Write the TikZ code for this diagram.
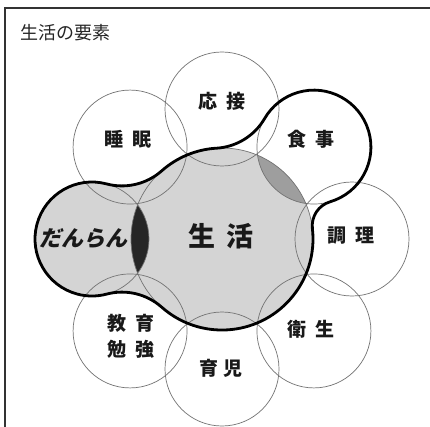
\documentclass[tikz,border=0pt]{standalone}
\usepackage{fontspec}
\newfontfamily\jp{Noto Sans CJK JP}
\begin{document}
\begin{tikzpicture}[x=1pt,y=1pt,
  thincirc/.style={draw=black!55, line width=0.7pt},
  outline/.style={draw=black, line width=2.8pt, line join=round},
  lightfill/.style={fill=black!17},
  lbl/.style={font=\jp\bfseries\fontsize{19}{19}\selectfont, text=black!90, inner sep=0pt},
]
\useasboundingbox (0,0) rectangle (430,426);
\clip (0,0) rectangle (430,426);
\fill[white] (0,0) rectangle (430,426);
\draw[black!80, line width=1.3pt] (5,-2) -- (5,418) -- (432,418);
\begin{scope}[shift={(222,187)}]
  % light gray region: big circle + danran circle + fillets
  \fill[lightfill] (131.5:91)
     arc[start angle=311.5, end angle=255.17, radius=60]
     arc[start angle=75.17, end angle=284.83, radius=57]
     arc[start angle=104.83, end angle=48.5, radius=60]
     arc[start angle=228.5, end angle=491.5, radius=91] -- cycle;
  % lenses
  \begin{scope}
    \clip (0,0) circle[radius=91];
    \fill[black!85] (180:130) circle[radius=57];
    \fill[black!38] (45:130) circle[radius=57];
  \end{scope}
  % thin circles
  \foreach \a in {0,45,...,315} \draw[thincirc] (\a:130) circle[radius=57];
  \draw[thincirc] (0,0) circle[radius=91];
  % thick outline
  \draw[outline] (93.5:91)
     arc[start angle=93.5, end angle=131.5, radius=91]
     arc[start angle=311.5, end angle=255.17, radius=60]
     arc[start angle=75.17, end angle=284.83, radius=57]
     arc[start angle=104.83, end angle=48.5, radius=60]
     arc[start angle=228.5, end angle=366.58, radius=91]
     arc[start angle=186.58, end angle=106.52, radius=25]
     arc[start angle=-73.48, end angle=149.83, radius=57]
     arc[start angle=329.83, end angle=273.5, radius=60] -- cycle;
\end{scope}
% title
\node[font=\jp\fontsize{18}{18}\selectfont, text=black!85, anchor=west, inner sep=0pt] (title) at (20,393) {生活の要素};
% labels
\node[lbl] (oset) at (222,325) {応\hspace{9pt}接};
\node[lbl] (suimin) at (128,287) {睡\hspace{9pt}眠};
\node[lbl] (shokuji) at (311,287) {食\hspace{9pt}事};
\node[lbl] (chori) at (351,190) {調\hspace{9pt}理};
\node[lbl] (eisei) at (311,97) {衛\hspace{9pt}生};
\node[lbl] (ikuji) at (221,58) {育\hspace{5pt}児};
\node[lbl, align=center] (kyoiku) at (131,90) {教\hspace{9pt}育\\[7pt]勉\hspace{9pt}強};
\node[lbl, font=\jp\bfseries\fontsize{27}{27}\selectfont] (seikatsu) at (221,190) {生\hspace{12pt}活};
\begin{scope}[shift={(85,187)}, xslant=0.22]
  \node[lbl, font=\jp\bfseries\fontsize{22}{22}\selectfont, transform shape] (danran) at (0,0) {だんらん};
\end{scope}
\end{tikzpicture}
\end{document}
